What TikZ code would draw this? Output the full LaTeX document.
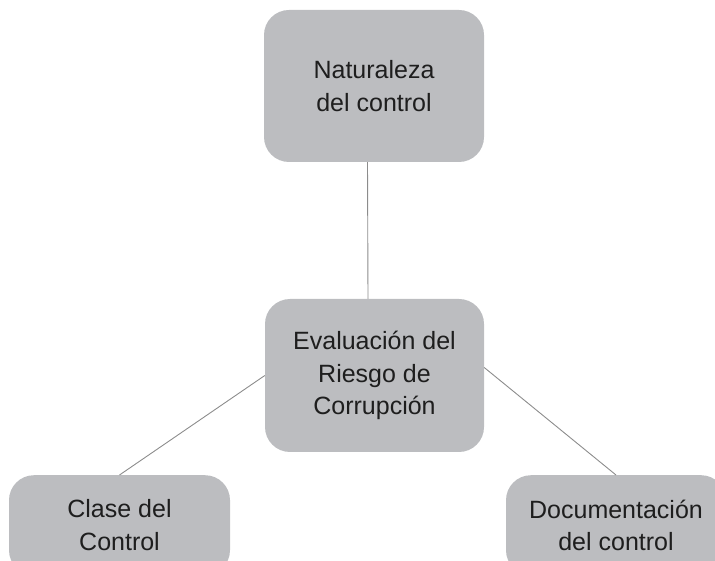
\documentclass[tikz,border=0pt]{standalone}
\usepackage{fontspec}
\setmainfont{Liberation Sans}
\usepackage{xcolor}
\usepackage{tikz}
\usetikzlibrary{positioning}
\definecolor{cajagris}{RGB}{188,189,192}
\definecolor{lineagris}{RGB}{140,140,140}
\definecolor{textogris}{RGB}{30,30,30}

\begin{document}
\begin{tikzpicture}[
			x = 1pt, y = 1pt,
			bloque/.style = {draw=none,fill=cajagris,rounded corners=25pt,align=center,
				text=textogris,font=\fontsize{25}{32.5}\selectfont,inner sep=0pt},
			enlace/.style = {draw=lineagris,line width=0.9pt}
			]

			\clip (0,0) rectangle (715,560);
			\useasboundingbox (0,0) rectangle (715,560);

			\node[bloque,minimum width=220pt,minimum height=152pt] (nat) at (374,474) {Naturaleza\\del control};
			\node[bloque,minimum width=219pt,minimum height=153pt] (eval) at (374.5,184.5) {Evaluación del\\Riesgo de\\Corrupción};
			\node[bloque,minimum width=221pt,minimum height=100pt,anchor=north] (cls) at (119.5,85) {Clase del\\Control};
			\node[bloque,minimum width=220pt,minimum height=100pt,anchor=north] (doc) at (616,85) {Documentación\\del control};

			\draw[enlace] ([xshift=-6.5pt]nat.south) -- ([xshift=-6.5pt]eval.north);
			\draw[enlace] (eval.west) -- (cls.north);
			\draw[enlace] ([yshift=8pt]eval.east) -- (doc.north);

		\end{tikzpicture}
\end{document}
